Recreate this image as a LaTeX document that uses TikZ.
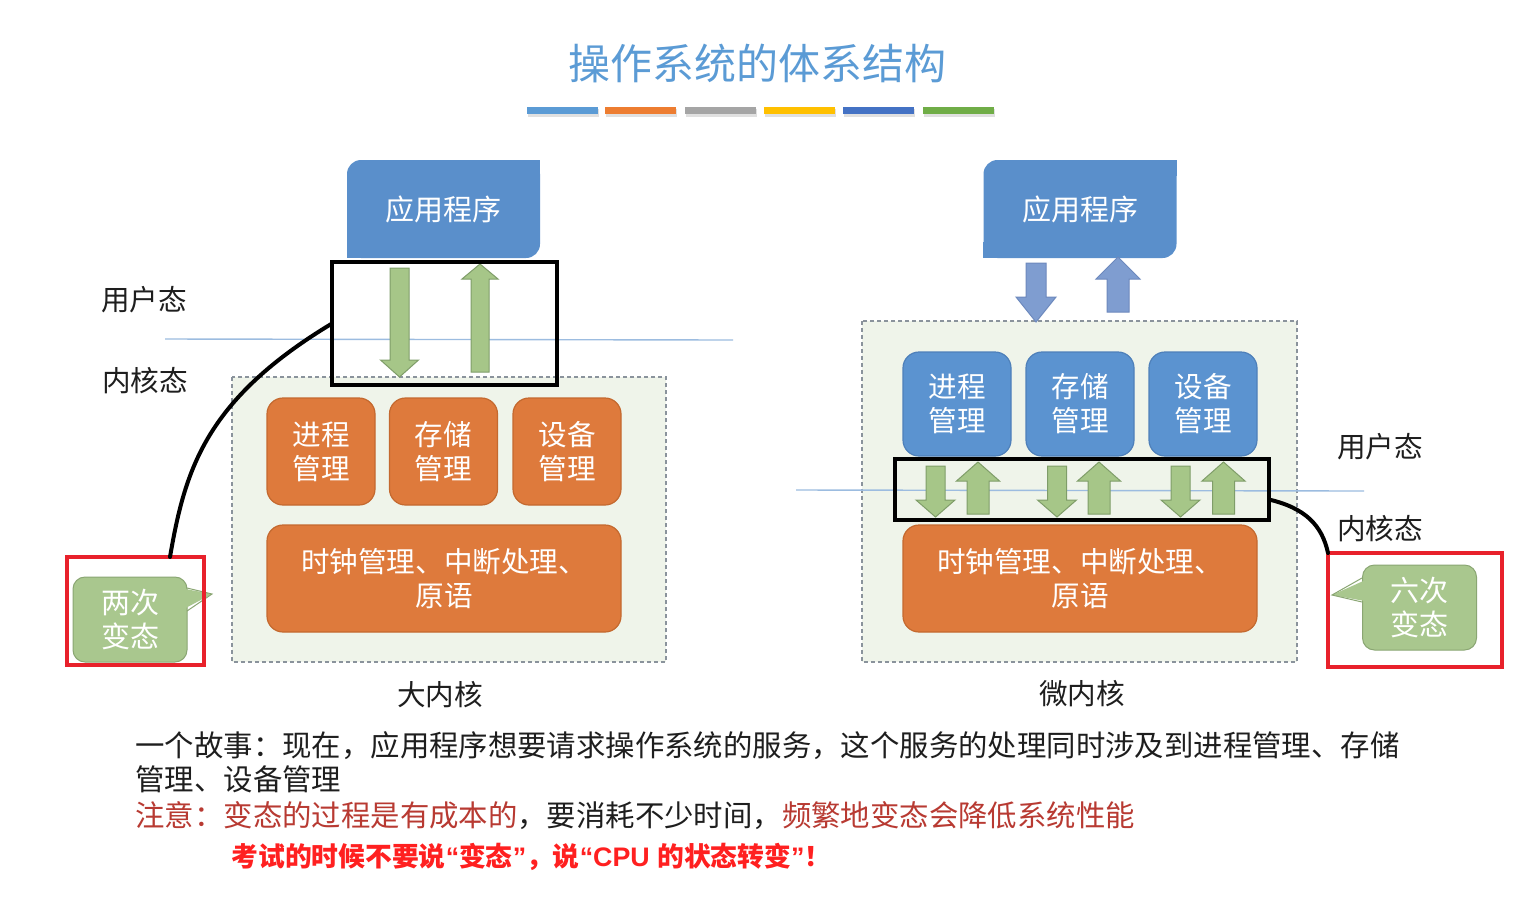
\documentclass[tikz,border=0pt]{standalone}
\usepackage{fontspec}
\setmainfont{Noto Sans CJK SC}
\newfontfamily\cjk{Noto Sans CJK SC}
\newfontfamily\latinsans{Liberation Sans}
\usetikzlibrary{calc}
\definecolor{titleblue}{HTML}{5B9BD5}
\definecolor{appblue}{HTML}{5A8FCB}
\definecolor{mgrblue}{HTML}{5B93D0}
\definecolor{blueline}{HTML}{4E80BA}
\definecolor{mgrorange}{HTML}{DE7A3C}
\definecolor{orangeline}{HTML}{C4692F}
\definecolor{arrgreen}{HTML}{A6C688}
\definecolor{arrgreenline}{HTML}{7F9D69}
\definecolor{arrblue}{HTML}{7F9DD0}
\definecolor{arrblueline}{HTML}{6D89BD}
\definecolor{callgreen}{HTML}{A9C78E}
\definecolor{callline}{HTML}{8AA673}
\definecolor{kernfill}{HTML}{EFF4EA}
\definecolor{kerndash}{HTML}{8A939C}
\definecolor{stateline}{HTML}{9CBCE0}
\definecolor{boxred}{HTML}{E8212B}
\definecolor{notered}{HTML}{B83A32}
\definecolor{examred}{HTML}{FF2020}
\definecolor{ink}{HTML}{1E1E1E}
\definecolor{barone}{HTML}{5B9BD5}
\definecolor{bartwo}{HTML}{ED7D31}
\definecolor{barthree}{HTML}{A5A5A5}
\definecolor{barfour}{HTML}{FFC000}
\definecolor{barfive}{HTML}{4472C4}
\definecolor{barsix}{HTML}{70AD47}
% block arrows: style, x, top, tip, shaft half width, head half width, head length
\newcommand{\downblk}[7]{\filldraw[#1] (#2-#5,#3) -- (#2+#5,#3) -- (#2+#5,#4-#7) -- (#2+#6,#4-#7) -- (#2,#4) -- (#2-#6,#4-#7) -- (#2-#5,#4-#7) -- cycle;}
% style, x, tip, bottom, shaft half width, head half width, head length
\newcommand{\upblk}[7]{\filldraw[#1] (#2-#5,#4) -- (#2+#5,#4) -- (#2+#5,#3+#7) -- (#2+#6,#3+#7) -- (#2,#3) -- (#2-#6,#3+#7) -- (#2-#5,#3+#7) -- cycle;}

\begin{document}
\begin{tikzpicture}[x=0.5pt,y=-0.5pt,font=\cjk\fontsize{14.3}{17}\selectfont\color{ink},
    appbox/.style={fill=appblue,rounded corners=7pt,minimum width=96.5pt,minimum height=49pt,
      font=\cjk\fontsize{14.5}{17}\selectfont\color{white}},
    mgr/.style={rounded corners=8pt,minimum width=54pt,minimum height=53.5pt,align=center,line width=0.6pt,
      font=\cjk\fontsize{14.3}{17}\selectfont\color{white}},
    orangebox/.style={mgr,fill=mgrorange,draw=orangeline},
    bluebox/.style={mgr,fill=mgrblue,draw=blueline,minimum height=52pt},
    kernbox/.style={fill=kernfill,draw=kerndash,line width=0.6pt,dash pattern=on 2pt off 1.5pt},
    greenarr/.style={fill=arrgreen,draw=arrgreenline,line width=0.5pt},
    bluearr/.style={fill=arrblue,draw=arrblueline,line width=0.5pt},
    blackbox/.style={draw=black,line width=2.2pt,inner sep=0pt,outer sep=0pt},
    redbox/.style={draw=boxred,line width=2pt,inner sep=0pt,outer sep=0pt},
    callbox/.style={fill=callgreen,draw=callline,line width=0.5pt,rounded corners=6pt,minimum width=57pt,
      minimum height=42.5pt,align=center,font=\cjk\fontsize{14.5}{17}\selectfont\color{white}},
    storyline/.style={anchor=west,inner sep=0pt,font=\cjk\fontsize{14.7}{17}\selectfont\color{ink}},
    curve/.style={draw=black,line width=2pt,line cap=round}]
  \fill[white] (0,0) rectangle (1533,896);
  \useasboundingbox (0,0) rectangle (1533,896);

  % title and colour bars
  \node (title) at (757,63) {\fontsize{21}{25}\selectfont\color{titleblue}操作系统的体系结构};
  \foreach \x/\c in {527/barone,605/bartwo,685/barthree,764/barfour,843/barfive,923/barsix}{
    \fill[black!12] (\x+1,109) rectangle ++(71,8);
    \fill[\c] (\x,107) rectangle ++(71,7);}

  % kernel areas and user/kernel lines
  \draw[kernbox] (232,377) rectangle (666,662);
  \draw[kernbox] (862,321) rectangle (1297,662);
  \draw[stateline,line width=0.7pt] (165,339) -- (733,340);
  \draw[stateline,line width=0.7pt] (796,490) -- (1364,491);

  % big kernel
  \node[appbox] (lapp) at (443.5,209) {应用程序};
  \fill[appblue] ($(lapp.north east)+(-16,0)$) rectangle ($(lapp.north east)+(0,16)$);
  \fill[appblue] ($(lapp.south west)+(0,-16)$) rectangle ($(lapp.south west)+(16,0)$);
  \node[orangebox] (lproc) at (321,451.5) {进程\\管理};
  \node[orangebox] (lmem) at (443.5,451.5) {存储\\管理};
  \node[orangebox] (ldev) at (567,451.5) {设备\\管理};
  \node[orangebox,minimum width=177pt] (lclock) at (444,578.5) {时钟管理、中断处理、\\原语};
  \downblk{greenarr}{399.5}{268}{377}{9.5}{19}{17}
  \upblk{greenarr}{480}{264}{372}{9}{18}{15}
  \node[blackbox,minimum width=112.5pt,minimum height=61.5pt] (lbig) at (444.5,323.5) {};

  % micro kernel
  \node[appbox] (rapp) at (1080,209) {应用程序};
  \fill[appblue] ($(rapp.north east)+(-16,0)$) rectangle ($(rapp.north east)+(0,16)$);
  \fill[appblue] ($(rapp.south west)+(0,-16)$) rectangle ($(rapp.south west)+(16,0)$);
  \downblk{bluearr}{1036}{263}{322}{10}{20}{25}
  \upblk{bluearr}{1118}{257}{312}{11}{22}{22}
  \node[bluebox] (rproc) at (957,404) {进程\\管理};
  \node[bluebox] (rmem) at (1080,404) {存储\\管理};
  \node[bluebox] (rdev) at (1203,404) {设备\\管理};
  \node[orangebox,minimum width=177pt] (rclock) at (1080,578.5) {时钟管理、中断处理、\\原语};
  \foreach \d/\u in {935.5/978,1057/1099,1180.5/1223.5}{
    \downblk{greenarr}{\d}{466}{517}{9.5}{19.5}{17}
    \upblk{greenarr}{\u}{462}{514}{11}{21.5}{19}}
  \node[blackbox,minimum width=187pt,minimum height=30.5pt] (rbig) at (1082,489.5) {};

  % mode labels
  \node (luser) at (144,300) {用户态};
  \node (lkern) at (145,381) {内核态};
  \node (ruser) at (1380,447) {用户态};
  \node (rkern) at (1380,529) {内核态};
  \node (lname) at (440,695) {大内核};
  \node (rname) at (1082,694) {微内核};

  % callouts
  \node[callbox] (lcall) at (130,619.5) {两次\\变态};
  \fill[callgreen] (180,588) -- (212,594) -- (180,611) -- cycle;
  \draw[callline,line width=0.5pt] (187,588) -- (212,594) -- (187,611);
  \node[redbox,minimum width=68.5pt,minimum height=54pt] (lred) at (135.5,611) {};
  \node[callbox] (rcall) at (1419.5,607.5) {六次\\变态};
  \fill[callgreen] (1370,578) -- (1332,595) -- (1370,602) -- cycle;
  \draw[callline,line width=0.5pt] (1362,578) -- (1332,595) -- (1362,602);
  \node[redbox,minimum width=87pt,minimum height=57pt] (rred) at (1415,610) {};
  \draw[curve] ($(lred.north west)+(103,0)$) .. controls (185,470) and (205,400) .. (lbig.west);
  \draw[curve] ($(rbig.east)+(0,10)$) .. controls (1305,508) and (1322,525) .. (rred.north west);

  % story text
  \node[storyline] (story) at (135,746) {一个故事：现在，应用程序想要请求操作系统的服务，这个服务的处理同时涉及到进程管理、存储};
  \node[storyline] (story2) at (135,779) {管理、设备管理};
  \node[storyline] (note) at (135,816) {{\color{notered}注意：变态的过程是有成本的}，要消耗不少时间，{\color{notered}频繁地变态会降低系统性能}};
  \node[storyline] (exam) at (231,857) {\fontsize{13.4}{15}\selectfont\bfseries\color{examred}考试的时候不要说{\latinsans\bfseries“}变态{\latinsans\bfseries”}，说{\latinsans\bfseries“CPU }的状态转变{\latinsans\bfseries”}！};
\end{tikzpicture}
\end{document}
